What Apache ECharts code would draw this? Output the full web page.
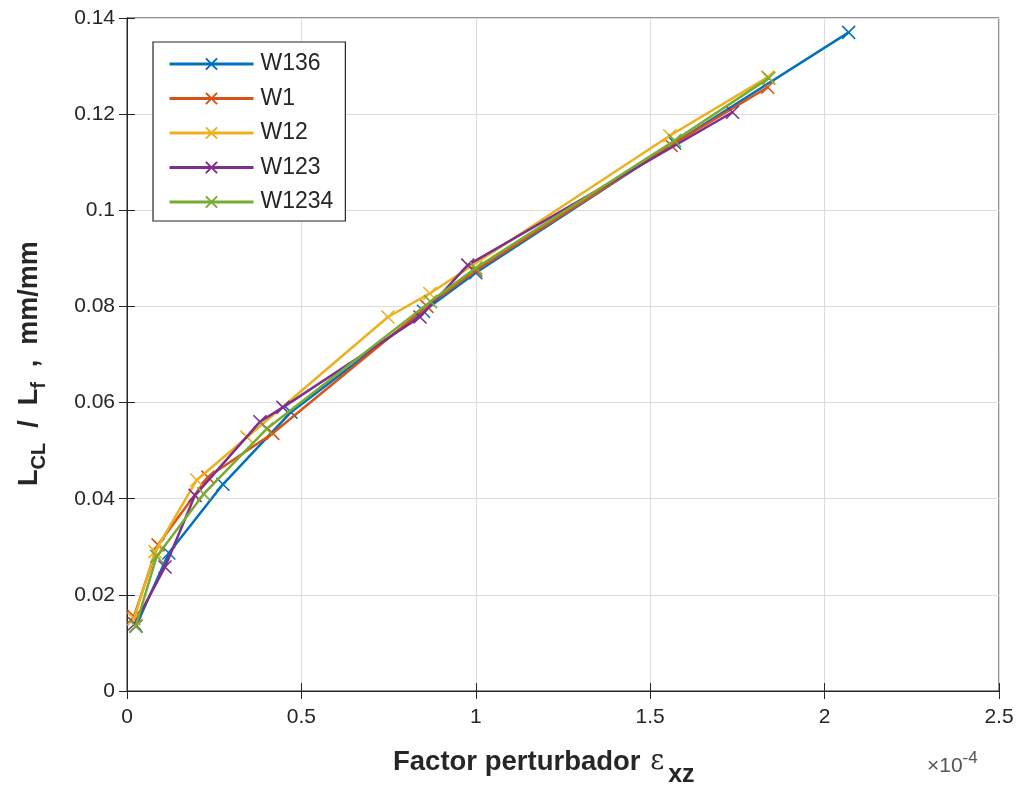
<!DOCTYPE html>
<html><head><meta charset="utf-8">
<script src="https://cdn.jsdelivr.net/npm/echarts@6/dist/echarts.min.js"></script>
<style>html,body{margin:0;padding:0;background:#fff}#c{width:1018px;height:791px}</style>
</head><body><div id="c"></div>
<script>
const seriesNames = ['W136', 'W1', 'W12', 'W123', 'W1234'];
const xTicks = [0, 0.5, 1, 1.5, 2, 2.5];
const yTicks = [0, 0.02, 0.04, 0.06, 0.08, 0.1, 0.12, 0.14];
const w136 = [[0.026,0.0135],[0.12,0.0287],[0.275,0.043],[0.47,0.058],[0.85,0.079],[1.0,0.087],[1.57,0.114],[2.069,0.137]];
const w1 = [[0.02,0.0155],[0.089,0.0304],[0.232,0.0445],[0.418,0.0536],[0.86,0.080],[1.0,0.0875],[1.56,0.1135],[1.837,0.1256]];
const w12 = [[0.02,0.015],[0.08,0.029],[0.2,0.0439],[0.344,0.0528],[0.748,0.0778],[0.868,0.0827],[1.556,0.1155],[1.837,0.1277]];
const w123 = [[0.022,0.014],[0.109,0.0258],[0.195,0.0407],[0.381,0.056],[0.447,0.059],[0.84,0.0778],[0.977,0.0886],[1.736,0.1204]];
const w1234 = [[0.025,0.0135],[0.085,0.028],[0.22,0.041],[0.40,0.0545],[0.87,0.081],[1.0,0.088],[1.57,0.1145],[1.84,0.1275]];
const allData = [w136, w1, w12, w123, w1234];
const colors = ['#0072BD', '#D95319', '#EDB120', '#7E2F8E', '#77AC30'];

const xSym = 'path://M0,0L10,10M10,0L0,10';
const fmt = v => String(Math.round(v * 1000) / 1000);
const chart = echarts.init(document.getElementById('c'));
const axisCol = '#262626';
const font = 'Liberation Sans, Arial, sans-serif';
chart.setOption({
  animation: false,
  backgroundColor: '#fff',
  textStyle: { fontFamily: font },
  grid: { left: 127, right: 19, top: 18, bottom: 100, show: true, borderColor: axisCol, borderWidth: 1 },
  xAxis: [{
    type: 'value', min: xTicks[0], max: xTicks[xTicks.length-1], interval: 0.5,
    axisLine: { show: true, onZero: false, lineStyle: { color: axisCol } },
    axisTick: { show: true, inside: true, length: 8, lineStyle: { color: axisCol } },
    axisLabel: { color: axisCol, fontSize: 21, margin: 16, formatter: fmt, fontFamily: font },
    splitLine: { show: true, lineStyle: { color: '#dcdcdc' } }
  }, {
    type: 'value', position: 'top', min: 0, max: 2.5, interval: 0.5,
    axisLine: { show: true, lineStyle: { color: axisCol } },
    axisTick: { show: true, inside: true, length: 8, lineStyle: { color: axisCol } },
    axisLabel: { show: false }, splitLine: { show: false }
  }],
  yAxis: [{
    type: 'value', min: yTicks[0], max: yTicks[yTicks.length-1], interval: 0.02,
    axisLine: { show: true, onZero: false, lineStyle: { color: axisCol } },
    axisTick: { show: true, inside: true, length: 8, lineStyle: { color: axisCol } },
    axisLabel: { color: axisCol, fontSize: 21, margin: 12, formatter: fmt, fontFamily: font },
    splitLine: { show: true, lineStyle: { color: '#dcdcdc' } }
  }, {
    type: 'value', position: 'right', min: 0, max: 0.14, interval: 0.02,
    axisLine: { show: true, lineStyle: { color: axisCol } },
    axisTick: { show: true, inside: true, length: 8, lineStyle: { color: axisCol } },
    axisLabel: { show: false }, splitLine: { show: false }
  }],
  legend: {
    orient: 'vertical', left: 153, top: 42,
    data: seriesNames,
    backgroundColor: '#fff', borderColor: axisCol, borderWidth: 1.2,
    padding: [10, 12, 7, 15], itemGap: 10.5, itemWidth: 84, itemHeight: 14,
    lineStyle: { width: 3 },
    textStyle: { fontSize: 23, lineHeight: 24, color: axisCol, fontFamily: font, padding: [0,0,0,2] }
  },
  series: seriesNames.map((n, i) => ({
    name: n, type: 'line', data: allData[i],
    symbol: xSym, symbolSize: 13, z: 2 + i,
    lineStyle: { color: colors[i], width: 2.5 },
    itemStyle: { color: colors[i], borderColor: colors[i], borderWidth: 1.6 }
  })),
  graphic: [
    { type: 'text', left: 393, top: 748, style: {
      text: '{a|Factor perturbador }{e|ε}{s|xz}',
      rich: {
        a: { fontSize: 27.5, fontWeight: 'bold', fill: axisCol, fontFamily: font },
        e: { fontSize: 27, fill: axisCol, fontFamily: 'DejaVu Serif, serif', padding: [0,4,0,2] },
        s: { fontSize: 25, fontWeight: 'bold', fill: axisCol, fontFamily: font, padding: [26,0,0,0] }
      } } },
    { type: 'text', left: 927, top: 750, style: {
      text: '{a|×10}{b|-4}',
      rich: {
        a: { fontSize: 21, fill: '#555', fontFamily: font },
        b: { fontSize: 17, fill: '#555', fontFamily: font, padding: [0,0,16,0] }
      } } },
    { type: 'text', x: 10, y: 486, rotation: Math.PI / 2, style: {
      text: '{a|L}{s|CL}{a|  /  L}{s|f}{a|  ,  mm/mm}',
      rich: {
        a: { fontSize: 27, fontWeight: 'bold', fill: axisCol, fontFamily: font },
        s: { fontSize: 20, fontWeight: 'bold', fill: axisCol, fontFamily: font, padding: [19,0,0,0] }
      } } }
  ]
});
</script></body></html>
